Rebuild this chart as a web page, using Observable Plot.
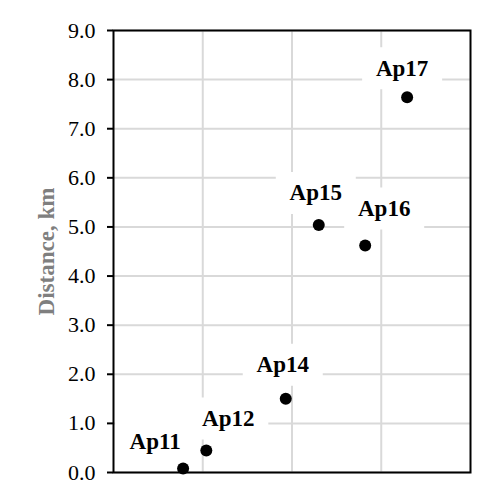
<!DOCTYPE html>
<html>
<head>
<meta charset="utf-8">
<script src="https://cdn.jsdelivr.net/npm/d3@7"></script>
<script src="https://cdn.jsdelivr.net/npm/@observablehq/plot@0.6"></script>
<style>
  html, body { margin: 0; padding: 0; background: #fff; }
  #chart svg { display: block; }
  #chart [aria-label="y-axis label"] text, #chart [aria-label="y-axis label"] { fill: #7f7f7f; font-weight: bold; font-size: 23px; }
</style>
</head>
<body>
<div id="chart"></div>
<script>
// Data
const names = ["Ap11", "Ap12", "Ap14", "Ap15", "Ap16", "Ap17"];
const xValues = [0.78, 1.04, 1.93, 2.30, 2.82, 3.29];
const distance = [0.08, 0.45, 1.50, 5.04, 4.62, 7.64];
const yTicks = [0, 1, 2, 3, 4, 5, 6, 7, 8, 9];
const xGrid = [1, 2, 3];

// Label layout (offsets in px from each point)
const labelDx = [-28, 22, -3, -3, 19, -5];
const labelDy = [-27, -32, -34, -32, -37, -29];

const data = names.map((n, i) => ({name: n, x: xValues[i], y: distance[i]}));

const boxSymbol = {
  draw(ctx, size) { ctx.rect(-40, -21, 80, 42); }
};

const labelMarks = data.map((d, i) =>
  Plot.dot([d], {x: "x", y: "y", dx: labelDx[i], dy: labelDy[i], symbol: boxSymbol, fill: "white", stroke: "none"})
);
const textMarks = data.map((d, i) =>
  Plot.text([d], {x: "x", y: "y", text: "name", dx: labelDx[i], dy: labelDy[i], fontSize: 23, fontWeight: "bold", fill: "black"})
);

const chart = Plot.plot({
  width: 504,
  height: 504,
  marginLeft: 113,
  marginRight: 34,
  marginTop: 30,
  marginBottom: 32,
  style: {fontFamily: "'Liberation Serif', 'Times New Roman', serif", fontSize: "22px", color: "black", background: "white"},
  x: {domain: [0, 4]},
  y: {domain: [0, 9]},
  marks: [
    Plot.gridX(xGrid, {stroke: "#d9d9d9", strokeWidth: 2, strokeOpacity: 1}),
    Plot.gridY(yTicks, {stroke: "#d9d9d9", strokeWidth: 2, strokeOpacity: 1}),
    ...labelMarks,
    Plot.dot(data, {x: "x", y: "y", r: 6, fill: "black"}),
    ...textMarks,
    Plot.axisX({ticks: [], label: null}),
    Plot.axisY(yTicks, {tickFormat: d => d.toFixed(1), tickSize: 6, tickPadding: 12, strokeWidth: 2, fontSize: 22, label: "Distance, km", labelAnchor: "center", labelArrow: "none", labelOffset: 76}),
    Plot.frame({stroke: "black", strokeWidth: 2})
  ]
});
document.getElementById("chart").appendChild(chart);
</script>
</body>
</html>
